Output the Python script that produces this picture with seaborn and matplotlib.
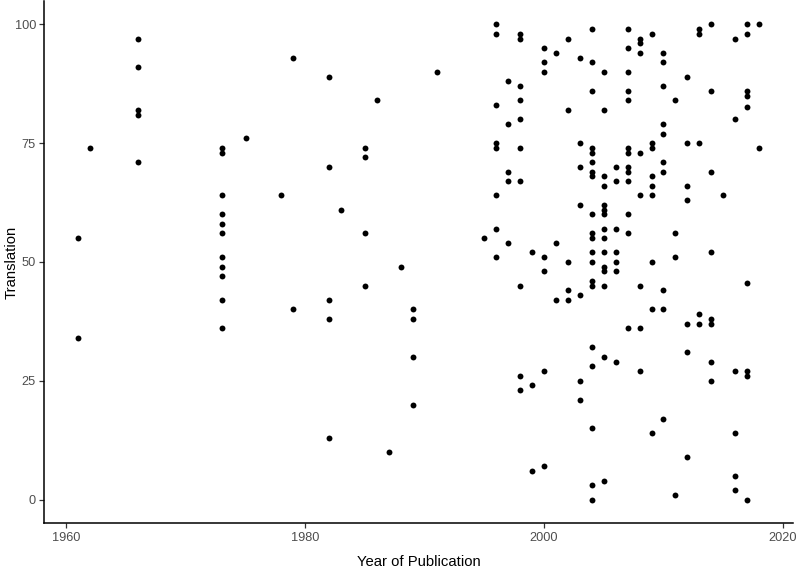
import pandas as pd
import matplotlib.pyplot as plt
import seaborn as sns

# values, one line per publication year
year = (
    [1961] * 2 + [1962] + [1966] * 5 + [1973] * 11 + [1975] + [1978] + [1979] * 2
    + [1982] * 5 + [1983] + [1985] * 4 + [1986] + [1987] + [1988] + [1989] * 4
    + [1991] + [1995] + [1996] * 8 + [1997] * 5 + [1998] * 10 + [1999] * 3
    + [2000] * 7 + [2001] * 3 + [2002] * 5 + [2003] * 7 + [2004] * 20
    + [2005] * 15 + [2006] * 7 + [2007] * 13 + [2008] * 8 + [2009] * 9
    + [2010] * 10 + [2011] * 4 + [2012] * 7 + [2013] * 5 + [2014] * 8
    + [2015] + [2016] * 6 + [2017] * 9 + [2018] * 2
)
translation = [
    55, 34,
    74,
    97, 91, 82, 81, 71,
    74, 73, 64, 60, 58, 56, 51, 49, 47, 42, 36,
    76,
    64,
    93, 40,
    89, 70, 42, 38, 13,
    61,
    74, 72, 56, 45,
    84,
    10,
    49,
    40, 38, 30, 20,
    90,
    55,
    100, 98, 83, 75, 74, 64, 57, 51,
    88, 79, 69, 67, 54,
    98, 97, 87, 84, 80, 74, 67, 45, 26, 23,
    52, 24, 6,
    95, 92, 90, 51, 48, 27, 7,
    94, 54, 42,
    97, 82, 50, 44, 42,
    93, 75, 70, 62, 43, 25, 21,
    99, 92, 86, 74, 73, 71, 69, 68, 60, 56, 55, 52, 50, 46, 45, 32, 28, 15, 3, 0,
    90, 82, 68, 66, 62, 61, 60, 57, 55, 52, 49, 48, 45, 30, 4,
    70, 67, 57, 52, 50, 48, 29,
    99, 95, 90, 86, 84, 74, 73, 70, 69, 67, 60, 56, 36,
    97, 96, 94, 73, 64, 45, 36, 27,
    98, 75, 74, 68, 66, 64, 50, 40, 14,
    94, 92, 87, 79, 77, 71, 69, 44, 40, 17,
    84, 56, 51, 1,
    89, 75, 66, 63, 37, 31, 9,
    99, 98, 75, 39, 37,
    100, 86, 69, 52, 38, 37, 29, 25,
    64,
    97, 80, 27, 14, 5, 2,
    100, 98, 86, 85, 82.5, 45.5, 27, 26, 0,
    100, 74,
]
x_ticks = [1960, 1980, 2000, 2020]
y_ticks = [0, 25, 50, 75, 100]

df = pd.DataFrame({"Year of Publication": year, "Translation": translation})

sns.set_style("white")
plt.rcParams['font.family'] = ['Liberation Sans', 'DejaVu Sans']

fig = plt.figure(figsize=(7.97, 5.73), dpi=100)
ax = fig.add_axes([0.0556, 0.0867, 0.9394, 0.9124])

sns.scatterplot(data=df, x="Year of Publication", y="Translation",
                color="black", s=18, linewidth=0, ax=ax)

ax.set_xlim(1958.15, 2020.85)
ax.set_ylim(-5, 105)
ax.set_xticks(x_ticks)
ax.set_yticks(y_ticks)

for side in ["top", "right"]:
    ax.spines[side].set_visible(False)
for side in ["left", "bottom"]:
    ax.spines[side].set_color("black")
    ax.spines[side].set_linewidth(1.1)

ax.tick_params(axis="both", which="major", length=3.5, width=0.9, color="#333333",
               labelsize=9.2, labelcolor="#4D4D4D", pad=2.5, left=True, bottom=True)
ax.set_xlabel("Year of Publication", fontsize=10.7, color="black")
ax.set_ylabel("Translation", fontsize=10.7, color="black")
ax.xaxis.set_label_coords(0.5, -0.061)
ax.yaxis.set_label_coords(-0.034, 0.5)

fig.savefig("out.png", dpi=100)
